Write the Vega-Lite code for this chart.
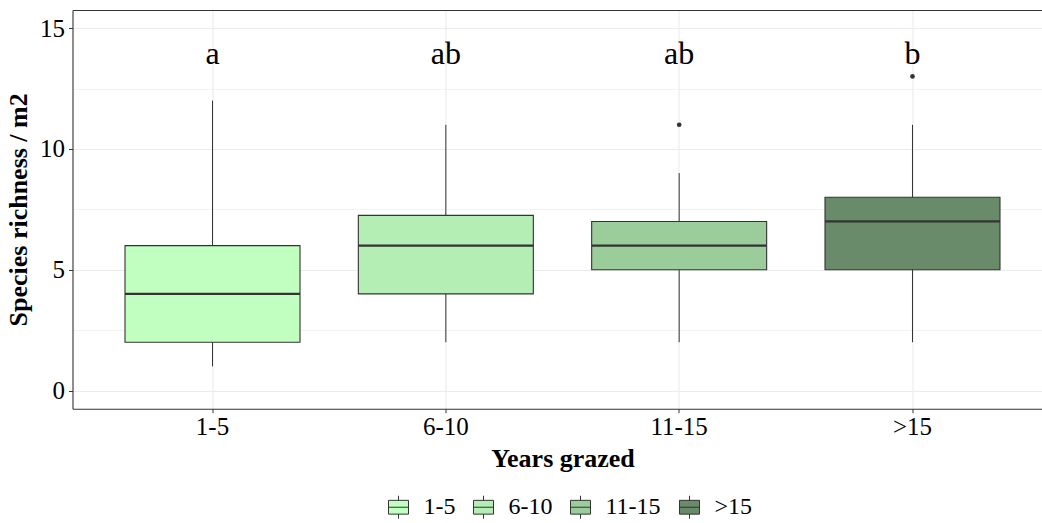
{
  "$schema": "https://vega.github.io/schema/vega-lite/v6.json",
  "width": 980,
  "height": 398.7,
  "autosize": {"type": "none"},
  "padding": {"left": 72.5, "top": 10, "right": -10.5, "bottom": 112},
  "background": "white",
  "config": {
    "view": {"stroke": null},
    "font": "Liberation Serif",
    "axis": {"labelFont": "Liberation Serif", "titleFont": "Liberation Serif", "labelColor": "black", "titleColor": "black"},
    "legend": {"labelFont": "Liberation Serif"}
  },
  "datasets": {
    "boxes": [
      {"years": "1-5", "lo": 1, "q1": 2, "med": 4, "q3": 6, "hi": 12, "letter": "a"},
      {"years": "6-10", "lo": 2, "q1": 4, "med": 6, "q3": 7.25, "hi": 11, "letter": "ab"},
      {"years": "11-15", "lo": 2, "q1": 5, "med": 6, "q3": 7, "hi": 9, "letter": "ab"},
      {"years": ">15", "lo": 2, "q1": 5, "med": 7, "q3": 8, "hi": 11, "letter": "b"}
    ],
    "outliers": [
      {"years": "11-15", "value": 11},
      {"years": ">15", "value": 13}
    ]
  },
  "data": {"name": "boxes"},
  "layer": [
    {
      "mark": {"type": "rule", "color": "#333333", "strokeWidth": 1},
      "encoding": {
        "x": {
          "field": "years", "type": "nominal",
          "scale": {"domain": ["1-5", "6-10", "11-15", ">15"], "paddingInner": 0, "paddingOuter": 0.1},
          "axis": {"orient": "top", "title": null, "labels": false, "ticks": false, "grid": false, "domain": true, "domainColor": "#333333", "domainWidth": 1.1}
        },
        "y": {
          "field": "lo", "type": "quantitative",
          "scale": {"domain": [-0.75, 15.75], "nice": false, "zero": false},
          "axis": {"orient": "left", "values": [2.5, 7.5, 12.5], "labels": false, "ticks": false, "domain": false, "grid": true, "gridColor": "#ebebeb", "gridWidth": 0.6, "title": null, "offset": 0}
        },
        "y2": {"field": "hi"}
      }
    },
    {
      "mark": {"type": "bar", "width": {"band": 0.75}, "stroke": "#333333", "strokeWidth": 1.1, "opacity": 1},
      "encoding": {
        "x": {
          "field": "years", "type": "nominal",
          "axis": {
            "orient": "bottom", "title": "Years grazed", "titleFontSize": 26, "titleFontWeight": "bold", "titlePadding": 6,
            "labelFontSize": 25, "labelAngle": 0, "labelPadding": 2,
            "tickSize": 4, "tickColor": "#333333", "tickWidth": 1,
            "domain": true, "domainColor": "#333333", "domainWidth": 1.1,
            "grid": true, "gridColor": "#ebebeb", "gridWidth": 1.1, "bandPosition": 0.5
          }
        },
        "y": {
          "field": "q1", "type": "quantitative",
          "axis": {
            "orient": "left", "values": [0, 5, 10, 15], "title": "Species richness / m2",
            "titleFontSize": 26, "titleFontWeight": "bold", "titlePadding": 8,
            "labelFontSize": 25, "labelPadding": 4, "tickSize": 4, "tickColor": "#333333", "tickWidth": 1,
            "domain": true, "domainColor": "#333333", "domainWidth": 1.1,
            "grid": true, "gridColor": "#ebebeb", "gridWidth": 1.1
          }
        },
        "y2": {"field": "q3"},
        "fill": {
          "field": "years", "type": "nominal",
          "scale": {"domain": ["1-5", "6-10", "11-15", ">15"], "range": ["#C1FFC1", "#B4EEB4", "#9BCD9B", "#698B69"]},
          "legend": {
            "title": null, "orient": "none", "direction": "horizontal",
            "legendX": 314, "legendY": 485,
            "symbolType": "M-0.87,-0.6H0.87V0.6H-0.87Z M-0.87,0H0.87 M0,-1V-0.6 M0,0.6V1",
            "symbolSize": 529, "symbolStrokeColor": "#333333", "symbolStrokeWidth": 1, "symbolOpacity": 1,
            "labelFontSize": 24, "labelColor": "black", "labelOffset": 13, "columnPadding": 15, "padding": 0
          }
        }
      }
    },
    {
      "mark": {"type": "tick", "color": "#333333", "size": 175, "thickness": 2.2, "opacity": 1},
      "encoding": {
        "x": {"field": "years", "type": "nominal", "axis": null},
        "y": {"field": "med", "type": "quantitative", "axis": null}
      }
    },
    {
      "data": {"name": "outliers"},
      "mark": {"type": "circle", "color": "#333333", "size": 22, "opacity": 1},
      "encoding": {
        "x": {"field": "years", "type": "nominal", "axis": null},
        "y": {"field": "value", "type": "quantitative", "axis": null}
      }
    },
    {
      "mark": {"type": "text", "fontSize": 32, "font": "Liberation Serif", "color": "black", "baseline": "alphabetic"},
      "encoding": {
        "x": {"field": "years", "type": "nominal", "axis": null},
        "y": {"datum": 13.5, "type": "quantitative", "axis": null},
        "text": {"field": "letter"}
      }
    }
  ],
  "resolve": {"axis": {"y": "independent", "x": "independent"}}
}
